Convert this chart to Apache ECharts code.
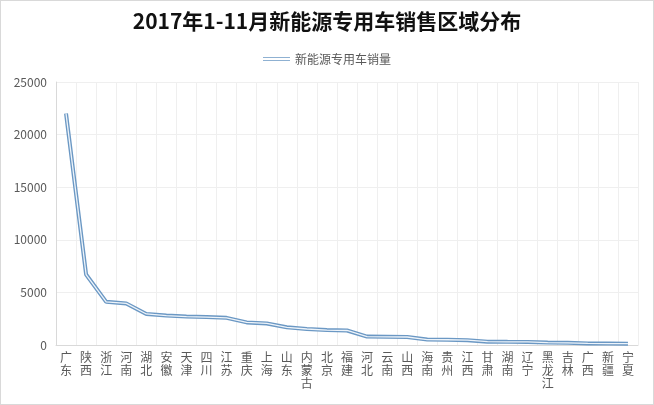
<!DOCTYPE html>
<html><head><meta charset="utf-8">
<script src="https://cdn.jsdelivr.net/npm/echarts@6/dist/echarts.min.js"></script>
<style>
html,body{margin:0;padding:0;background:#fff;}
#c{width:652px;height:403px;border:1px solid #d9d9d9;}
</style></head>
<body><div id="c"></div>
<script>
const categories = ['广东','陕西','浙江','河南','湖北','安徽','天津','四川','江苏','重庆','上海','山东','内蒙古','北京','福建','河北','云南','山西','海南','贵州','江西','甘肃','湖南','辽宁','黑龙江','吉林','广西','新疆','宁夏'];
const sales = [22000,6700,4100,3950,2950,2800,2700,2650,2580,2150,2050,1680,1520,1420,1380,800,780,760,520,500,460,320,300,290,230,210,150,140,130];
const yTicks = [0,5000,10000,15000,20000,25000];
const seriesName = '新能源专用车销量';

const chart = echarts.init(document.getElementById('c'));
const font = '"Noto Sans CJK SC","Microsoft YaHei",sans-serif';
chart.setOption({
  animation:false,
  title:{text:'2017年1-11月新能源专用车销售区域分布',left:'center',top:5,
    textStyle:{fontFamily:font,fontSize:21,fontWeight:'bold',color:'#111'}},
  legend:{data:[{name:seriesName,icon:'path://M0,0H30V1H0Z M0,3H30V4H0Z'}],top:47,left:'center',
    itemWidth:27,itemHeight:4,itemGap:4,
    itemStyle:{color:'#6b98c4'},
    textStyle:{fontFamily:font,fontSize:12,color:'#595959'}},
  grid:{left:55,right:15,top:81,bottom:59,containLabel:false},
  xAxis:{type:'category',data:categories,boundaryGap:true,
    axisLine:{lineStyle:{color:'#d9d9d9'}},
    axisTick:{show:false},
    splitLine:{show:true,interval:0,lineStyle:{color:'#efefef'}},
    axisLabel:{interval:0,margin:6,color:'#595959',fontFamily:font,fontSize:12,lineHeight:13,
      formatter:v=>v.split('').join('\n')}},
  yAxis:{type:'value',min:0,max:25000,interval:5000,
    axisLine:{show:true,lineStyle:{color:'#d9d9d9'}},
    axisTick:{show:false},
    splitLine:{lineStyle:{color:'#efefef'}},
    axisLabel:{color:'#595959',fontFamily:font,fontSize:12,margin:9,
      formatter:v=>yTicks.includes(v)?String(v):''}},
  series:[
    {name:seriesName,type:'line',data:sales,symbol:'none',
      lineStyle:{color:'#6b98c4',width:4},itemStyle:{color:'#6b98c4'},z:2},
    {name:'_inner',type:'line',data:sales,symbol:'none',silent:true,
      lineStyle:{color:'#eef4fa',width:1.3},z:3}
  ]
});
</script></body></html>
